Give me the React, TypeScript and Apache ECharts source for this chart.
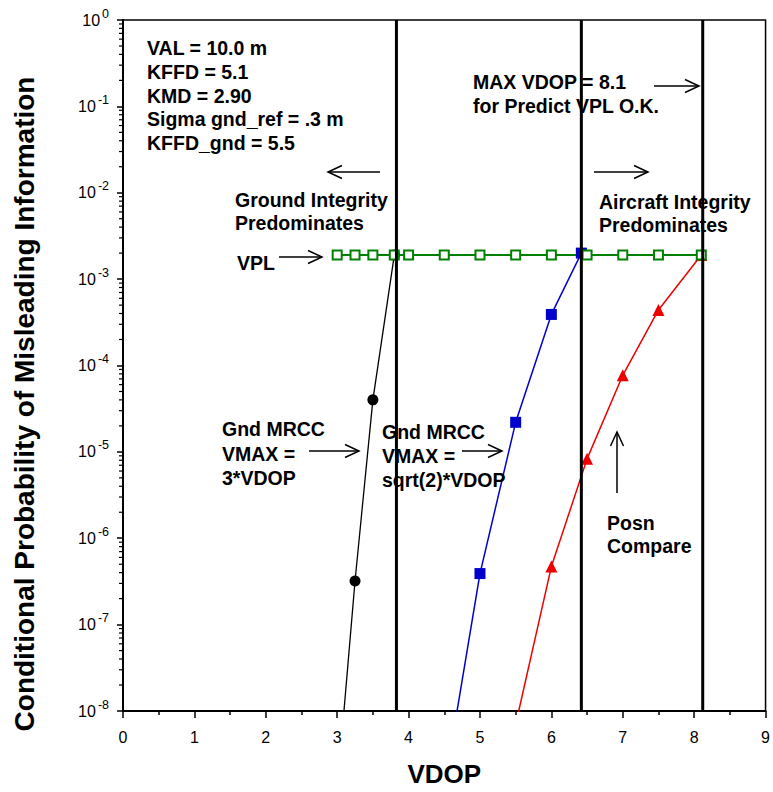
import React, { useEffect, useRef } from "react";
import * as echarts from "echarts";

// ---------- data ----------
const vdopTicks = [0, 1, 2, 3, 4, 5, 6, 7, 8, 9];
const decadeExponents = [-8, -7, -6, -5, -4, -3, -2, -1, 0];
const minorMantissas = [2, 3, 4, 5, 6, 7, 8, 9];

const vplVdop = [3.0, 3.25, 3.5, 3.8, 4.0, 4.5, 5.0, 5.5, 6.0, 6.5, 7.0, 7.5, 8.1];
const vplPmi = [1.9e-3, 1.9e-3, 1.9e-3, 1.9e-3, 1.9e-3, 1.9e-3, 1.9e-3, 1.9e-3, 1.9e-3, 1.9e-3, 1.9e-3, 1.9e-3, 1.9e-3];

const gnd3Vdop = [3.0, 3.25, 3.5, 3.8];
const gnd3Pmi = [1.2e-9, 3.2e-7, 4.0e-5, 1.9e-3];

const gndSqrt2Vdop = [4.5, 5.0, 5.5, 6.0, 6.42];
const gndSqrt2Pmi = [1.3e-9, 3.9e-7, 2.2e-5, 3.9e-4, 2.0e-3];

const posnVdop = [5.5, 6.0, 6.5, 7.0, 7.5, 8.1];
const posnPmi = [7.0e-9, 4.7e-7, 8.3e-6, 7.7e-5, 4.4e-4, 1.9e-3];

const boundaryVdop = [3.83, 6.42, 8.12];

const paramLines = ["VAL = 10.0 m", "KFFD = 5.1", "KMD = 2.90", "Sigma gnd_ref = .3 m", "KFFD_gnd = 5.5"];

// ---------- helpers ----------
const FONT = '"Liberation Sans", Arial, Helvetica, sans-serif';
const yMin = Math.pow(10, decadeExponents[0]);
const yMax = Math.pow(10, decadeExponents[decadeExponents.length - 1]);

function pairs(xs: number[], ys: number[]) {
  return xs.map((x, i) =>
    ys[i] < yMin ? { value: [x, ys[i]], symbol: "none" } : [x, ys[i]]
  );
}

function label(text: string, x: number, y: number) {
  return {
    type: "text",
    x,
    y,
    silent: true,
    z: 100,
    style: {
      text,
      fill: "#000",
      fontFamily: FONT,
      fontWeight: "bold",
      fontSize: 19.5,
      align: "left",
      verticalAlign: "middle",
    },
  };
}

function arrow(x1: number, y1: number, x2: number, y2: number) {
  const len = Math.hypot(x2 - x1, y2 - y1);
  const ux = (x2 - x1) / len;
  const uy = (y2 - y1) / len;
  const L = 14;
  const W = 6.5;
  const bx = x2 - L * ux;
  const by = y2 - L * uy;
  const px = -uy;
  const py = ux;
  return {
    type: "group",
    silent: true,
    z: 100,
    children: [
      { type: "line", shape: { x1, y1, x2, y2 }, style: { stroke: "#000", lineWidth: 1.5 } },
      {
        type: "polyline",
        shape: { points: [[bx + W * px, by + W * py], [x2, y2], [bx - W * px, by - W * py]] },
        style: { stroke: "#000", fill: null, lineWidth: 1.5 },
      },
    ],
  };
}

export default function App() {
  const ref = useRef<HTMLDivElement>(null);

  useEffect(() => {
    if (!ref.current) return;
    const chart = echarts.init(ref.current, null, { renderer: "svg" });

    const minorTickValues: number[][] = [];
    decadeExponents.slice(0, -1).forEach((e) => {
      minorMantissas.forEach((m) => minorTickValues.push([0, m * Math.pow(10, e)]));
    });

    const option: any = {
      animation: false,
      backgroundColor: "#fff",
      grid: {
        left: 123,
        right: 5,
        top: 20,
        bottom: 77,
        show: true,
        borderColor: "#000",
        borderWidth: 1.5,
        backgroundColor: "transparent",
      },
      xAxis: {
        type: "value",
        min: vdopTicks[0],
        max: vdopTicks[vdopTicks.length - 1],
        interval: 1,
        name: "VDOP",
        nameLocation: "middle",
        nameGap: 50,
        nameTextStyle: { fontFamily: FONT, fontWeight: "bold", fontSize: 26, color: "#000" },
        axisLine: { show: true, onZero: false, lineStyle: { color: "#000", width: 2 } },
        axisTick: { show: true, inside: false, length: 7, lineStyle: { color: "#000", width: 1.5 } },
        minorTick: { show: true, splitNumber: 2, length: 4, lineStyle: { color: "#000", width: 1.5 } },
        splitLine: { show: false },
        axisLabel: { fontFamily: FONT, fontSize: 16, color: "#000", margin: 18 },
      },
      yAxis: {
        type: "log",
        logBase: 10,
        min: yMin,
        max: yMax,
        axisLine: { show: true, onZero: false, lineStyle: { color: "#000", width: 2 } },
        axisTick: { show: true, inside: false, length: 6, lineStyle: { color: "#000", width: 1.5 } },
        splitLine: { show: false },
        axisLabel: {
          margin: 14,
          formatter: (v: number) => `{b|10}{e|${Math.round(Math.log10(v))}}`,
          rich: {
            b: { fontFamily: FONT, fontSize: 16, color: "#000" },
            e: { fontFamily: FONT, fontSize: 12.5, color: "#000", padding: [0, 0, 13, 2] },
          },
        },
      },
      series: [
        {
          name: "log minor ticks",
          type: "custom",
          silent: true,
          z: 1,
          data: minorTickValues,
          encode: { x: 0, y: 1 },
          renderItem: (_p: any, api: any) => {
            const pt = api.coord([api.value(0), api.value(1)]);
            return {
              type: "line",
              shape: { x1: pt[0] - 4, y1: pt[1], x2: pt[0], y2: pt[1] },
              style: { stroke: "#000", lineWidth: 1.2 },
            };
          },
        },
        {
          name: "Gnd MRCC VMAX = 3*VDOP",
          type: "line",
          data: pairs(gnd3Vdop, gnd3Pmi),
          clip: true,
          symbol: "circle",
          symbolSize: 11,
          showAllSymbol: true,
          itemStyle: { color: "#000" },
          lineStyle: { color: "#000", width: 1.3 },
        },
        {
          name: "Gnd MRCC VMAX = sqrt(2)*VDOP",
          type: "line",
          data: pairs(gndSqrt2Vdop, gndSqrt2Pmi),
          clip: true,
          symbol: "rect",
          symbolSize: 11,
          showAllSymbol: true,
          itemStyle: { color: "#0000cc" },
          lineStyle: { color: "#0000cc", width: 1.5 },
        },
        {
          name: "Posn Compare",
          type: "line",
          data: pairs(posnVdop, posnPmi),
          clip: true,
          symbol: "triangle",
          symbolSize: 12,
          showAllSymbol: true,
          itemStyle: { color: "#ee0000" },
          lineStyle: { color: "#ee0000", width: 1.5 },
        },
        {
          name: "VPL",
          type: "line",
          data: pairs(vplVdop, vplPmi),
          clip: true,
          symbol: "rect",
          symbolSize: 9,
          showAllSymbol: true,
          itemStyle: { color: "#fff", borderColor: "#008000", borderWidth: 2 },
          lineStyle: { color: "#008000", width: 2 },
        },
        {
          name: "boundaries",
          type: "custom",
          silent: true,
          z: 5,
          data: boundaryVdop.map((v) => [v, yMax]),
          encode: { x: 0, y: 1 },
          renderItem: (_p: any, api: any) => {
            const top = api.coord([api.value(0), yMax]);
            const bot = api.coord([api.value(0), yMin]);
            return {
              type: "line",
              shape: { x1: top[0], y1: top[1], x2: bot[0], y2: bot[1] },
              style: { stroke: "#000", lineWidth: 3 },
            };
          },
        },
      ],
      graphic: [
        {
          type: "text",
          x: 24,
          y: 404,
          rotation: Math.PI / 2,
          silent: true,
          style: {
            text: "Conditional Probability of Misleading Information",
            fill: "#000",
            fontFamily: FONT,
            fontWeight: "bold",
            fontSize: 28,
            align: "center",
            verticalAlign: "middle",
          },
        },
        ...paramLines.map((t, i) => label(t, 147, 48 + i * 23.75)),
        arrow(380, 172, 328, 172),
        label("Ground Integrity", 235, 200),
        label("Predominates", 235, 223),
        label("VPL", 237, 263),
        arrow(279, 257, 322, 257),
        label("MAX VDOP = 8.1", 473, 82),
        label("for Predict VPL O.K.", 473, 106),
        arrow(654, 86, 699, 86),
        arrow(594, 172, 648, 172),
        label("Aircraft Integrity", 599, 202),
        label("Predominates", 599, 225),
        label("Gnd MRCC", 222, 429),
        label("VMAX =", 222, 454),
        label("3*VDOP", 222, 478),
        arrow(309, 451, 359, 451),
        label("Gnd MRCC", 382, 432),
        label("VMAX =", 382, 456),
        label("sqrt(2)*VDOP", 382, 480),
        arrow(462, 451, 502, 451),
        label("Posn", 607, 523),
        label("Compare", 607, 546),
        arrow(617, 493, 617, 432),
      ],
    };

    chart.setOption(option);
    return () => chart.dispose();
  }, []);

  return (
    <div
      ref={ref}
      style={{ position: "absolute", left: 0, top: 0, width: 773, height: 792, background: "#fff" }}
    />
  );
}
